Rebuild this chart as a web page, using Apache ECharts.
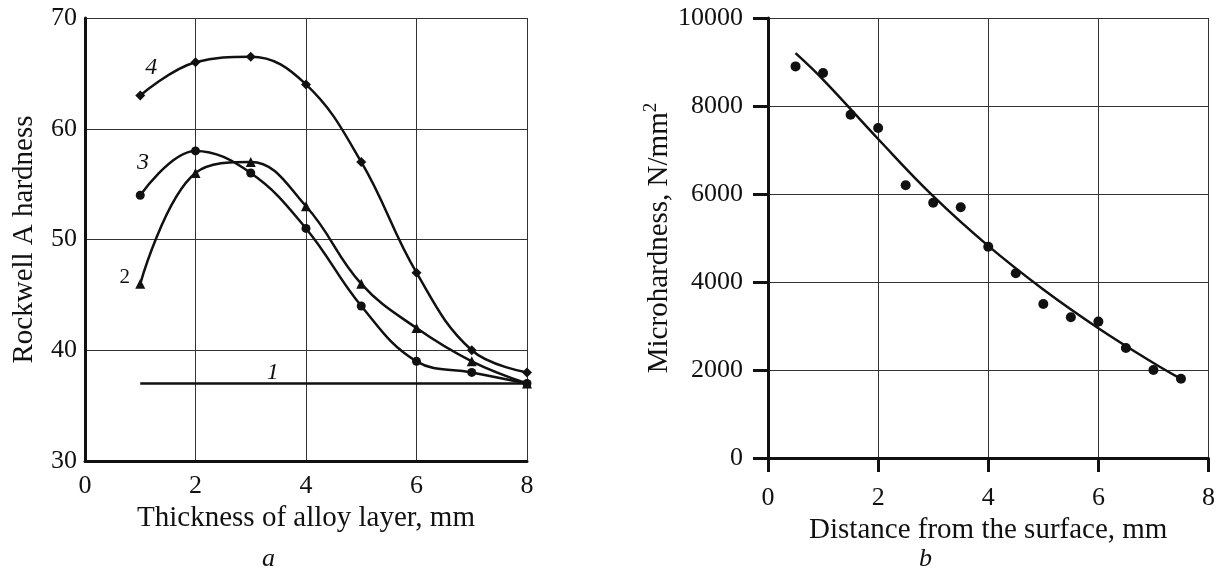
<!DOCTYPE html>
<html>
<head>
<meta charset="utf-8">
<script src="https://cdn.jsdelivr.net/npm/echarts@6/dist/echarts.min.js"></script>
<style>
html,body{margin:0;padding:0;background:#fff;}
#chart{width:1218px;height:572px;}
</style>
</head>
<body>
<div id="chart"></div>
<script>
// Panel a: Rockwell A hardness vs thickness of alloy layer
const thickness = [1, 2, 3, 4, 5, 6, 7, 8];
const curve1 = [37, 37, 37, 37, 37, 37, 37, 37];
const curve2 = [46, 56, 57, 53, 46, 42, 39, 37];
const curve3 = [54, 58, 56, 51, 44, 39, 38, 37];
const curve4 = [63, 66, 66.5, 64, 57, 47, 40, 38];
const curveLabels = [
  { name: '4', x: 1.2, y: 65.5, italic: true },
  { name: '3', x: 1.05, y: 56.9, italic: true },
  { name: '2', x: 0.72, y: 46.6, italic: false },
  { name: '1', x: 3.4, y: 38.0, italic: true }
];
const ticksAX = [0, 2, 4, 6, 8];
const ticksAY = [30, 40, 50, 60, 70];

// Panel b: microhardness vs distance from the surface
const distance = [0.5, 1, 1.5, 2, 2.5, 3, 3.5, 4, 4.5, 5, 5.5, 6, 6.5, 7, 7.5];
const microhardness = [8900, 8750, 7800, 7500, 6200, 5800, 5700, 4800, 4200, 3500, 3200, 3100, 2500, 2000, 1800];
const fitX = [0.5, 1, 2, 3, 4, 5, 6, 7, 7.5];
const fitY = [9200, 8600, 7250, 5950, 4820, 3830, 2950, 2160, 1800];

const FONT = 'Liberation Serif';
const INK = '#111';
const zip = (xs, ys) => xs.map((x, i) => [x, ys[i]]);

const chart = echarts.init(document.getElementById('chart'), null, { renderer: 'canvas' });

const axisNameStyle = { fontFamily: FONT, fontSize: 29, color: INK };
const tickLabelStyle = { fontFamily: FONT, fontSize: 26, color: INK, formatter: v => String(v) };
const gridLine = { show: true, lineStyle: { color: '#333', width: 1 } };

const option = {
  backgroundColor: '#fff',
  animation: false,
  grid: [
    { left: 85, top: 18, width: 442, height: 443 },
    { left: 768, top: 18, width: 442, height: 440 }
  ],
  xAxis: [
    {
      gridIndex: 0, type: 'value', min: 0, max: 8, interval: 2,
      name: 'Thickness of alloy layer, mm', nameLocation: 'middle', nameGap: 42,
      nameTextStyle: axisNameStyle,
      axisLine: { show: true, onZero: false, lineStyle: { color: INK, width: 3 } },
      axisTick: { show: false },
      axisLabel: Object.assign({ margin: 12 }, tickLabelStyle),
      splitLine: gridLine
    },
    {
      gridIndex: 1, type: 'value', min: 0, max: 8, interval: 2,
      name: 'Distance from the surface, mm', nameLocation: 'middle', nameGap: 54,
      nameTextStyle: axisNameStyle,
      axisLine: { show: true, onZero: false, lineStyle: { color: INK, width: 3 } },
      axisTick: { show: true, inside: false, length: 14, lineStyle: { color: INK, width: 3 } },
      axisLabel: Object.assign({ margin: 27 }, tickLabelStyle),
      splitLine: gridLine
    }
  ],
  yAxis: [
    {
      gridIndex: 0, type: 'value', min: 30, max: 70, interval: 10,
      name: 'Rockwell A hardness', nameLocation: 'middle', nameGap: 46, nameRotate: 90,
      nameTextStyle: axisNameStyle,
      axisLine: { show: true, onZero: false, lineStyle: { color: INK, width: 3 } },
      axisTick: { show: false },
      axisLabel: Object.assign({ margin: 8 }, tickLabelStyle),
      splitLine: gridLine
    },
    {
      gridIndex: 1, type: 'value', min: 0, max: 10000, interval: 2000,
      name: '{m|Microhardness, N/mm}{s|2}', nameLocation: 'middle', nameGap: 80, nameRotate: 90,
      nameTextStyle: {
        rich: {
          m: { fontFamily: FONT, fontSize: 29, color: INK, lineHeight: 36 },
          s: { fontFamily: FONT, fontSize: 19, color: INK, verticalAlign: 'top' }
        }
      },
      axisLine: { show: true, onZero: false, lineStyle: { color: INK, width: 3 } },
      axisTick: { show: true, inside: false, length: 15, lineStyle: { color: INK, width: 3 } },
      axisLabel: Object.assign({ margin: 25 }, tickLabelStyle),
      splitLine: gridLine
    }
  ],
  graphic: [
    { type: 'text', left: 262, top: 546, style: { text: 'a', font: 'italic 26px "Liberation Serif"', fill: INK } },
    { type: 'text', left: 919, top: 546, style: { text: 'b', font: 'italic 26px "Liberation Serif"', fill: INK } }
  ],
  series: [
    {
      type: 'line', xAxisIndex: 0, yAxisIndex: 0, data: zip(thickness, curve1),
      showSymbol: false, symbol: 'none', lineStyle: { color: INK, width: 2.5 }, z: 3
    },
    {
      type: 'line', xAxisIndex: 0, yAxisIndex: 0, data: zip(thickness, curve2),
      smooth: 0.4, symbol: 'triangle', symbolSize: 10,
      itemStyle: { color: INK }, lineStyle: { color: INK, width: 2.5 }, z: 4
    },
    {
      type: 'line', xAxisIndex: 0, yAxisIndex: 0, data: zip(thickness, curve3),
      smooth: 0.4, symbol: 'circle', symbolSize: 9,
      itemStyle: { color: INK }, lineStyle: { color: INK, width: 2.5 }, z: 4
    },
    {
      type: 'line', xAxisIndex: 0, yAxisIndex: 0, data: zip(thickness, curve4),
      smooth: 0.4, symbol: 'diamond', symbolSize: 10,
      itemStyle: { color: INK }, lineStyle: { color: INK, width: 2.5 }, z: 4
    },
    {
      type: 'scatter', xAxisIndex: 0, yAxisIndex: 0, symbolSize: 0, silent: true, z: 5,
      itemStyle: { opacity: 1 },
      data: curveLabels.map(l => ({
        name: l.name, value: [l.x, l.y],
        label: {
          show: true, position: 'inside', formatter: '{b}',
          fontFamily: FONT, fontStyle: l.italic ? 'italic' : 'normal',
          fontSize: l.italic ? 24 : 21, color: INK, opacity: 1
        }
      }))
    },
    {
      type: 'scatter', xAxisIndex: 1, yAxisIndex: 1, data: zip(distance, microhardness),
      symbol: 'circle', symbolSize: 10, itemStyle: { color: INK, opacity: 1 }, z: 4
    },
    {
      type: 'line', xAxisIndex: 1, yAxisIndex: 1, data: zip(fitX, fitY),
      smooth: 0.4, showSymbol: false, symbol: 'none', lineStyle: { color: INK, width: 2.5 }, z: 3
    }
  ]
};
chart.setOption(option);
</script>
</body>
</html>
